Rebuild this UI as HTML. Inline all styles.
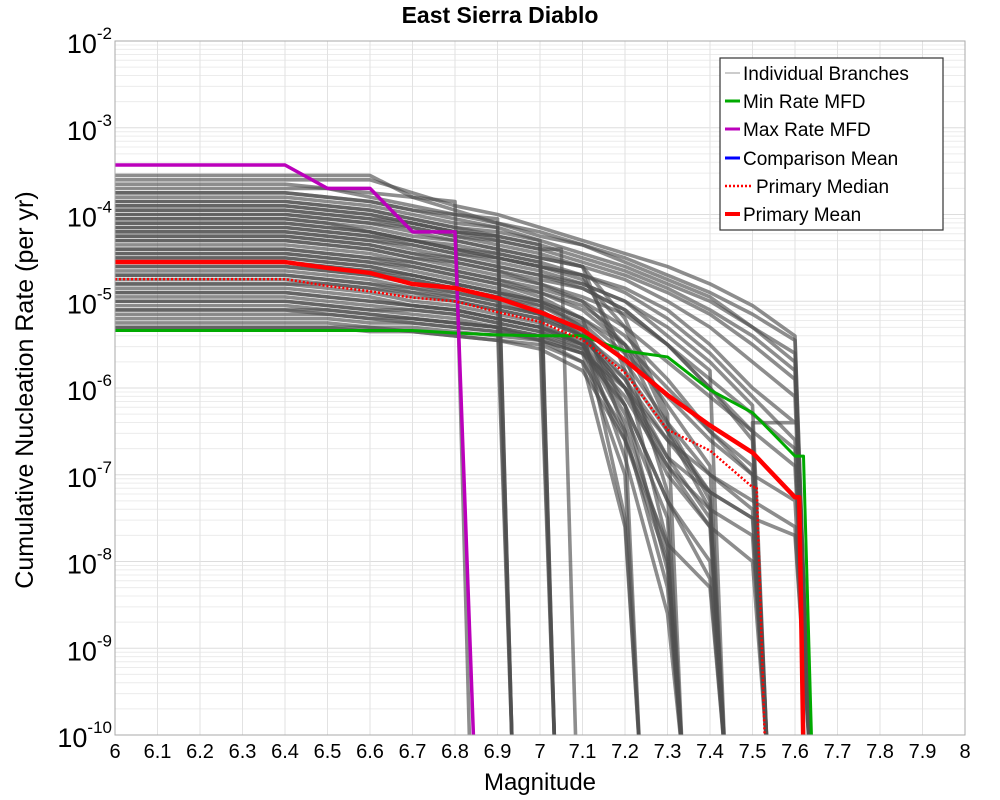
<!DOCTYPE html>
<html><head><meta charset="utf-8"><style>
body{margin:0;background:#fff;}
svg{display:block;font-family:"Liberation Sans","DejaVu Sans",sans-serif;}
</style></head><body>
<svg id="chart" width="1000" height="800" viewBox="0 0 1000 800">
<defs><clipPath id="pc"><rect x="115" y="41" width="850" height="694"/></clipPath></defs>
<rect width="1000" height="800" fill="#fff"/>
<g id="grid"></g>
<g id="branches" clip-path="url(#pc)"></g>
<g id="series" clip-path="url(#pc)"></g>
<rect x="115" y="41" width="850" height="694" fill="none" stroke="#aaa"/>
<g id="xticks"></g>
<g id="yticks"></g>
<text x="500" y="23" text-anchor="middle" font-size="23" font-weight="bold">East Sierra Diablo</text>
<text x="540" y="790" text-anchor="middle" font-size="24">Magnitude</text>
<text transform="translate(33,390) rotate(-90)" text-anchor="middle" font-size="25">Cumulative Nucleation Rate (per yr)</text>
<g>
<rect x="720" y="58" width="223" height="172" fill="#fff" stroke="#333" stroke-width="1.2"/>
<g><line x1="725" y1="73" x2="740" y2="73" stroke="#999" stroke-width="1"/><text x="743" y="80" font-size="19">Individual Branches</text></g>
<g><line x1="725" y1="101" x2="740" y2="101" stroke="#0a0" stroke-width="3"/><text x="743" y="108" font-size="19">Min Rate MFD</text></g>
<g><line x1="725" y1="129" x2="740" y2="129" stroke="#b0b" stroke-width="3"/><text x="743" y="136" font-size="19">Max Rate MFD</text></g>
<g><line x1="725" y1="158" x2="740" y2="158" stroke="#00f" stroke-width="3"/><text x="743" y="165" font-size="19">Comparison Mean</text></g>
<g><line x1="725" y1="186" x2="752" y2="186" stroke="#f00" stroke-width="2.5" stroke-dasharray="2,2"/><text x="756" y="193" font-size="19">Primary Median</text></g>
<g><line x1="725" y1="214" x2="740" y2="214" stroke="#f00" stroke-width="4"/><text x="743" y="221" font-size="19">Primary Mean</text></g>
</g>
</svg>
<script>
const xTicks=[6,6.1,6.2,6.3,6.4,6.5,6.6,6.7,6.8,6.9,7,7.1,7.2,7.3,7.4,7.5,7.6,7.7,7.8,7.9,8];
const yDecades=[-2,-3,-4,-5,-6,-7,-8,-9,-10];
const meanMags=[6.0,6.4,6.5,6.6,6.7,6.8,6.9,7.0,7.1,7.2,7.3,7.4,7.5,7.6];
const meanRates=[2.83e-5,2.83e-5,2.42e-5,2.12e-5,1.58e-5,1.42e-5,1.09e-5,7.5e-6,4.7e-6,2.1e-6,8.3e-7,3.7e-7,1.8e-7,5.5e-8];
const meanMmax=7.61;
const medianRates=[1.8e-5,1.8e-5,1.5e-5,1.3e-5,1.1e-5,1.0e-5,7.5e-6,5.8e-6,3.6e-6,1.5e-6,3.3e-7,1.9e-7,7.2e-8];
const medianMmax=7.51;
const minRates=[4.6e-6,4.6e-6,4.6e-6,4.6e-6,4.6e-6,4.3e-6,4.1e-6,4.0e-6,4.0e-6,2.67e-6,2.28e-6,9.5e-7,5.2e-7,1.64e-7];
const minMmax=7.62;
const maxRates=[3.72e-4,3.72e-4,2.0e-4,2.0e-4,6.3e-5,6.3e-5];
const maxMmax=6.8;
const branchStartMag=6.4;
const branchMmax=[7.6,7.6,7.6,6.8,6.9,6.9,7.0,7.0,7.05,7.3,7.3,7.4,7.4,7.5,7.5,7.6,7.6,7.2,7.2,7.3,7.4,7.5,6.9,7.0,7.3,7.4,7.5,7.6,7.3,7.4,7.5,7.6,6.9,7.0,7.2,7.3,7.4,7.5,7.6,7.6,7.3,7.4,
7.6,7.6,7.5,7.5,7.4,7.3,7.6,7.5,7.4,7.3,7.2,6.9,7.0,7.6,7.5,7.4];
const branchLogRates=[
[-3.55,-3.55,-3.55,-3.8,-3.95,-4.1,-4.25,-4.35,-4.5,-4.7,-4.9,-5.15,-5.45],
[-3.6,-3.6,-3.6,-3.75,-3.9,-4.0,-4.15,-4.3,-4.45,-4.6,-4.8,-5.05,-5.4],
[-3.65,-3.7,-3.8,-3.9,-4.0,-4.1,-4.2,-4.35,-4.55,-4.75,-4.95,-5.3,-5.6],
[-3.7,-3.7,-3.75,-3.8,-3.85],
[-3.75,-3.8,-3.85,-3.95,-4.0,-4.05],
[-3.8,-3.85,-3.9,-4.0,-4.1,-4.15],
[-3.85,-3.9,-3.95,-4.05,-4.15,-4.2,-4.3],
[-3.9,-3.95,-4.0,-4.1,-4.2,-4.25,-4.35],
[-3.95,-4.0,-4.05,-4.15,-4.25,-4.3,-4.4],
[-4.0,-4.05,-4.1,-4.2,-4.3,-4.4,-4.5,-4.6,-5.2,-6.3],
[-4.05,-4.1,-4.2,-4.3,-4.35,-4.45,-4.55,-4.7,-5.6,-7.2],
[-4.1,-4.15,-4.2,-4.3,-4.4,-4.5,-4.6,-4.75,-5.3,-6.4,-7.3],
[-4.15,-4.2,-4.25,-4.35,-4.45,-4.55,-4.65,-4.8,-5.0,-5.4,-5.8],
[-4.2,-4.25,-4.3,-4.4,-4.5,-4.6,-4.7,-4.8,-5.0,-5.3,-5.7,-6.2],
[-4.25,-4.3,-4.35,-4.45,-4.55,-4.65,-4.75,-4.85,-5.1,-5.5,-6.0,-6.6],
[-4.3,-4.35,-4.4,-4.5,-4.6,-4.7,-4.8,-4.95,-5.15,-5.5,-5.9,-6.3,-6.7],
[-4.35,-4.4,-4.45,-4.55,-4.65,-4.75,-4.85,-5.0,-5.3,-5.7,-6.1,-6.5,-6.9],
[-4.4,-4.45,-4.5,-4.6,-4.7,-4.8,-4.95,-5.2,-6.5],
[-4.45,-4.5,-4.55,-4.65,-4.75,-4.85,-5.0,-5.3,-7.5],
[-4.5,-4.55,-4.6,-4.7,-4.8,-4.9,-5.05,-5.3,-6.2,-8.1],
[-4.55,-4.6,-4.65,-4.75,-4.85,-4.95,-5.1,-5.4,-6.0,-7.0,-7.6],
[-4.6,-4.65,-4.7,-4.8,-4.9,-5.0,-5.15,-5.4,-6.0,-6.8,-7.2,-7.5],
[-4.65,-4.7,-4.75,-4.85,-4.9,-5.0],
[-4.7,-4.75,-4.8,-4.9,-4.95,-5.05,-5.15],
[-4.75,-4.8,-4.85,-4.95,-5.0,-5.1,-5.2,-5.4,-6.8,-8.6],
[-4.8,-4.85,-4.9,-5.0,-5.05,-5.15,-5.25,-5.5,-6.2,-7.3,-8.0],
[-4.85,-4.9,-4.95,-5.05,-5.1,-5.2,-5.3,-5.5,-6.0,-6.9,-7.4,-7.7],
[-4.9,-4.95,-5.0,-5.05,-5.1,-5.2,-5.3,-5.45,-5.9,-6.6,-7.0,-7.3,-7.6],
[-4.95,-5.0,-5.05,-5.1,-5.15,-5.25,-5.35,-5.5,-6.4,-7.9],
[-5.0,-5.05,-5.1,-5.15,-5.2,-5.3,-5.45,-5.6,-6.2,-7.3,-8.2],
[-5.05,-5.1,-5.15,-5.2,-5.25,-5.3,-5.4,-5.55,-6.1,-6.9,-7.6,-8.0],
[-5.1,-5.15,-5.2,-5.25,-5.3,-5.35,-5.45,-5.6,-6.0,-6.6,-7.2,-7.5,-7.7],
[-5.15,-5.15,-5.2,-5.2,-5.25,-5.3],
[-5.2,-5.2,-5.25,-5.25,-5.3,-5.35,-5.4],
[-5.25,-5.25,-5.3,-5.3,-5.35,-5.4,-5.45,-5.7,-7.6],
[-5.3,-5.3,-5.3,-5.35,-5.4,-5.45,-5.5,-5.7,-6.5,-8.3],
[-5.3,-5.3,-5.35,-5.35,-5.4,-5.45,-5.55,-5.8,-6.6,-7.8,-8.3],
[-4.2,-4.25,-4.3,-4.35,-4.45,-4.5,-4.6,-4.7,-4.85,-5.1,-5.5,-6.0,-6.4],
[-3.9,-3.95,-4.0,-4.1,-4.2,-4.3,-4.4,-4.55,-4.7,-4.9,-5.15,-5.5,-5.9],
[-4.5,-4.55,-4.6,-4.7,-4.8,-4.9,-5.0,-5.2,-5.6,-6.1,-6.6,-7.0,-7.3],
[-4.0,-4.05,-4.1,-4.15,-4.25,-4.35,-4.45,-4.6,-5.8,-7.8],
[-4.3,-4.35,-4.4,-4.5,-4.55,-4.65,-4.8,-5.0,-5.5,-6.5,-7.4],
[-3.75,-3.8,-3.85,-3.95,-4.05,-4.15,-4.3,-4.45,-4.6,-4.8,-5.0,-5.3,-5.7],
[-4.1,-4.15,-4.2,-4.3,-4.4,-4.5,-4.6,-4.7,-4.9,-5.2,-5.6,-6.1,-6.6],
[-4.4,-4.45,-4.5,-4.55,-4.65,-4.75,-4.9,-5.05,-5.4,-5.9,-6.5,-7.0],
[-4.6,-4.65,-4.7,-4.75,-4.85,-4.95,-5.05,-5.25,-5.7,-6.4,-7.0,-7.4],
[-4.7,-4.75,-4.8,-4.85,-4.95,-5.05,-5.15,-5.35,-5.9,-6.8,-7.5],
[-4.9,-4.95,-5.0,-5.05,-5.1,-5.2,-5.3,-5.5,-6.3,-7.5],
[-3.85,-3.9,-3.95,-4.05,-4.15,-4.25,-4.35,-4.5,-4.65,-4.85,-5.1,-5.4,-5.8],
[-4.25,-4.3,-4.35,-4.45,-4.5,-4.6,-4.7,-4.85,-5.1,-5.5,-6.0,-6.5],
[-4.45,-4.5,-4.55,-4.6,-4.7,-4.8,-4.9,-5.1,-5.5,-6.2,-6.9],
[-5.0,-5.05,-5.1,-5.1,-5.15,-5.25,-5.35,-5.55,-6.6,-8.0],
[-5.1,-5.1,-5.15,-5.2,-5.25,-5.3,-5.4,-5.6,-7.0],
[-3.95,-4.0,-4.05,-4.1,-4.2,-4.25],
[-4.15,-4.2,-4.25,-4.3,-4.4,-4.45,-4.55],
[-4.05,-4.1,-4.15,-4.25,-4.3,-4.4,-4.5,-4.6,-4.75,-5.0,-5.3,-5.7,-6.1],
[-4.55,-4.6,-4.65,-4.7,-4.8,-4.9,-5.0,-5.2,-5.5,-6.0,-6.5,-6.9],
[-4.8,-4.8,-4.85,-4.9,-5.0,-5.1,-5.2,-5.4,-5.8,-6.5,-7.2]
];
const NS="http://www.w3.org/2000/svg";
const X0=115,X1=965,Y0=41,Y1=735;
function xs(m){return X0+(m-6)/2*(X1-X0);}
function yl(l){return Y0+(-2-l)/8*(Y1-Y0);}
function ys(v){return yl(Math.log10(v));}
function mk(tag,attrs,parent){const e=document.createElementNS(NS,tag);for(const k in attrs)e.setAttribute(k,attrs[k]);parent.appendChild(e);return e;}
const grid=document.getElementById('grid');
yDecades.forEach(d=>{if(d<=-10)return;for(let k=2;k<=9;k++){const y=yl(d-1+Math.log10(k));
const ln=mk('line',{x1:X0,x2:X1,y1:y,y2:y,stroke:'#ececec','stroke-width':1},grid);

}});
yDecades.forEach(d=>{const y=yl(d);
const ln=mk('line',{x1:X0,x2:X1,y1:y,y2:y,stroke:'#ddd','stroke-width':1},grid);

});
xTicks.forEach(t=>{const x=xs(t);
const ln=mk('line',{x1:x,x2:x,y1:Y0,y2:Y1,stroke:'#e2e2e2','stroke-width':1},grid);


const tx=mk('text',{x:x,y:758,'text-anchor':'middle','font-size':20},document.getElementById('xticks'));
tx.textContent=String(t);

});
const yt=document.getElementById('yticks');
yDecades.forEach(d=>{const y=yl(d);
const t=mk('text',{x:112,y:y+12,'text-anchor':'end','font-size':27},yt);


t.innerHTML='10<tspan dy="-14" font-size="17">'+d+'</tspan>';});
const bg=document.getElementById('branches');
branchLogRates.forEach((arr,i)=>{const pts=[[xs(6),yl(arr[0])]];
arr.forEach((l,j)=>pts.push([xs(branchStartMag+j*0.1),yl(l)]));
const last=arr[arr.length-1];const mm=branchMmax[i];
pts.push([xs(mm),yl(last)]);pts.push([xs(mm+0.035),Y1+20]);
const p=mk('polyline',{points:pts.map(q=>q.join(',')).join(' '),fill:'none',stroke:'#505050','stroke-width':3.6,'stroke-opacity':0.65,'stroke-linejoin':'round'},bg);

});
const sg=document.getElementById('series');
function series(mags,rates,mmax,drop,attrs,name){const pts=rates.map((v,i)=>[xs(mags[i]),ys(v)]);
pts.push([xs(mmax),ys(rates[rates.length-1])]);pts.push([xs(mmax+drop),Y1+20]);
const p=mk('polyline',Object.assign({points:pts.map(q=>q.join(',')).join(' '),fill:'none','stroke-linejoin':'round'},attrs),sg);

}
series(meanMags,minRates,minMmax,0.02,{stroke:'#0a0','stroke-width':3},'min-rate-line');
series(meanMags,maxRates,maxMmax,0.045,{stroke:'#b0b','stroke-width':3.5},'max-rate-line');
series(meanMags,medianRates,medianMmax,0.02,{stroke:'#f00','stroke-width':2.5,'stroke-dasharray':'2,2'},'median-line');
series(meanMags,meanRates,meanMmax,0.01,{stroke:'#f00','stroke-width':4.5},'mean-line');
</script>
</body></html>
